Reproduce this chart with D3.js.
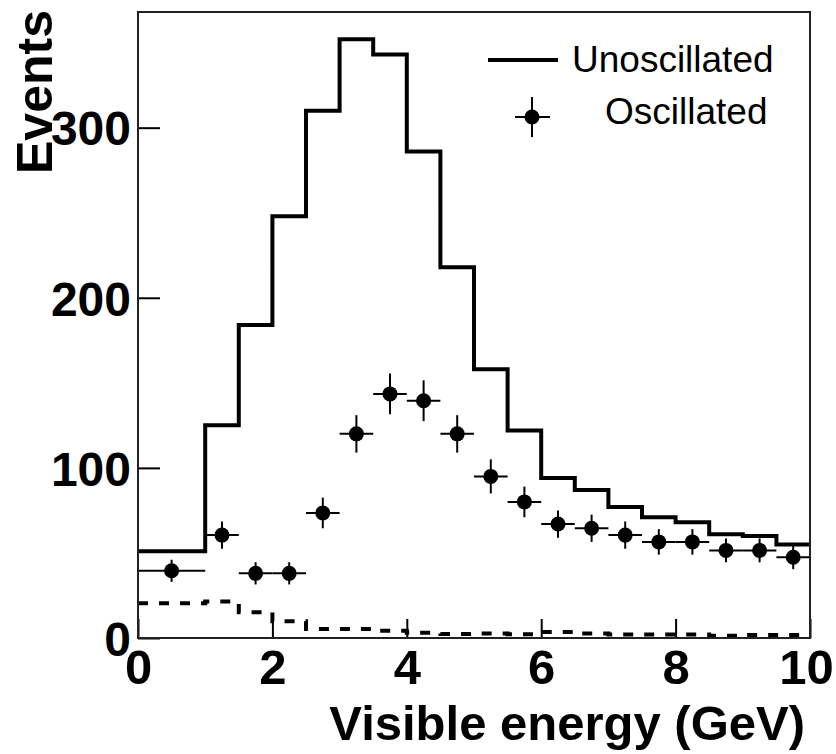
<!DOCTYPE html>
<html>
<head>
<meta charset="utf-8">
<script src="https://cdn.jsdelivr.net/npm/d3@7"></script>
<style>
  html, body { margin: 0; padding: 0; background: #fff; }
  svg { display: block; }
  text { font-family: "Liberation Sans", Arial, Helvetica, sans-serif; fill: #000; }
</style>
</head>
<body>
<svg id="chart" width="836" height="754"></svg>
<script>
// ---- data ----
const binEdges = [0, 1, 1.5, 2, 2.5, 3, 3.5, 4, 4.5, 5, 5.5, 6, 6.5, 7, 7.5, 8, 8.5, 9, 9.5, 10];
const unoscillated = [51, 125, 184, 248, 310, 352, 343, 286, 218, 158, 122, 94, 87, 77, 71, 68, 61, 60, 55];
const background = [20.4, 21.4, 15.1, 9.8, 5.3, 5.3, 4.3, 3.1, 2.4, 2.6, 2.2, 3.5, 2.6, 2.0, 2.0, 2.0, 1.3, 1.8, 1.8];
const oscEnergy = [0.5, 1.25, 1.75, 2.25, 2.75, 3.25, 3.75, 4.25, 4.75, 5.25, 5.75, 6.25, 6.75, 7.25, 7.75, 8.25, 8.75, 9.25, 9.75];
const oscEnergyErr = [0.5, 0.25, 0.25, 0.25, 0.25, 0.25, 0.25, 0.25, 0.25, 0.25, 0.25, 0.25, 0.25, 0.25, 0.25, 0.25, 0.25, 0.25, 0.25];
const oscillated = [39.5, 60.5, 38, 38, 73.5, 120, 143.5, 139.5, 120, 95, 80, 67, 64.5, 60.5, 56.5, 56.5, 51.5, 51.5, 47.5];
const oscErr = [6.5, 8, 6.5, 6.5, 9, 11, 12, 12, 11, 10, 9, 8, 8, 8, 7.5, 7.5, 7, 7, 7];
const xTicks = [0, 2, 4, 6, 8, 10];
const yTicks = [0, 100, 200, 300];
const xLabel = "Visible energy (GeV)";
const yLabel = "Events";
const legendLabels = ["Unoscillated", "Oscillated"];

// ---- layout ----
const svg = d3.select("#chart");
const L = 138, R = 810, T = 12, B = 638;
const x = d3.scaleLinear().domain([0, 10]).range([L, R]);
const y = d3.scaleLinear().domain([0, 368]).range([B, T]);

function stepPoints(values) {
  const pts = values.map((v, i) => [binEdges[i], v]);
  pts.push([binEdges[binEdges.length - 1], values[values.length - 1]]);
  return pts;
}
const stepLine = d3.line().x(d => x(d[0])).y(d => y(d[1])).curve(d3.curveStepAfter);

// background dashed histogram
svg.append("path")
  .attr("d", stepLine(stepPoints(background)))
  .attr("fill", "none").attr("stroke", "#000")
  .attr("stroke-width", 4).attr("stroke-dasharray", "10,11");

// unoscillated histogram
svg.append("path")
  .attr("d", stepLine(stepPoints(unoscillated)))
  .attr("fill", "none").attr("stroke", "#000")
  .attr("stroke-width", 4).attr("stroke-linejoin", "miter");

// oscillated points with error bars
const pts = svg.append("g");
oscEnergy.forEach((e, i) => {
  const g = pts.append("g");
  g.append("line")
    .attr("x1", x(e - oscEnergyErr[i])).attr("x2", x(e + oscEnergyErr[i]))
    .attr("y1", y(oscillated[i])).attr("y2", y(oscillated[i]))
    .attr("stroke", "#000").attr("stroke-width", 2);
  g.append("line")
    .attr("x1", x(e)).attr("x2", x(e))
    .attr("y1", y(oscillated[i] - oscErr[i])).attr("y2", y(oscillated[i] + oscErr[i]))
    .attr("stroke", "#000").attr("stroke-width", 2);
  g.append("circle")
    .attr("cx", x(e)).attr("cy", y(oscillated[i])).attr("r", 7.5)
    .attr("fill", "#000");
});

// axes
const xAxis = svg.append("g").attr("transform", `translate(0,${B})`)
  .call(d3.axisBottom(x).tickValues(xTicks).tickSize(-19).tickFormat(d3.format("d")));
xAxis.select(".domain").remove();
xAxis.selectAll("line").attr("stroke", "#000").attr("stroke-width", 2);
xAxis.selectAll("text").attr("dy", null).attr("y", 46)
  .attr("dx", d => d === 10 ? -4 : 0)
  .style("font-family", '"Liberation Sans", Arial, sans-serif')
  .style("font-size", "49px").style("font-weight", "bold").attr("fill", "#000");

const yAxis = svg.append("g").attr("transform", `translate(${L},0)`)
  .call(d3.axisLeft(y).tickValues(yTicks).tickSize(-22).tickFormat(d3.format("d")));
yAxis.select(".domain").remove();
yAxis.selectAll("line").attr("stroke", "#000").attr("stroke-width", 2);
yAxis.selectAll("text").attr("x", -7).attr("dy", "0.36em")
  .style("font-family", '"Liberation Sans", Arial, sans-serif')
  .style("font-size", "48px").style("font-weight", "bold").attr("fill", "#000");

// frame
svg.append("rect")
  .attr("x", L).attr("y", T).attr("width", R - L).attr("height", B - T)
  .attr("fill", "none").attr("stroke", "#222").attr("stroke-width", 2);

// axis titles
svg.append("text")
  .attr("x", 805).attr("y", 740).attr("text-anchor", "end")
  .style("font-size", "49px").style("font-weight", "bold")
  .text(xLabel);
svg.append("text")
  .attr("transform", "translate(52,92) rotate(-90)")
  .attr("text-anchor", "middle")
  .style("font-size", "50px").style("font-weight", "bold")
  .text(yLabel);

// legend
const lg = svg.append("g");
lg.append("line").attr("x1", 488).attr("x2", 558).attr("y1", 60).attr("y2", 60)
  .attr("stroke", "#000").attr("stroke-width", 4);
lg.append("text").attr("x", 572).attr("y", 72)
  .style("font-size", "37px").text(legendLabels[0]);
lg.append("line").attr("x1", 515).attr("x2", 550).attr("y1", 117).attr("y2", 117)
  .attr("stroke", "#000").attr("stroke-width", 2);
lg.append("line").attr("x1", 532).attr("x2", 532).attr("y1", 97).attr("y2", 137)
  .attr("stroke", "#000").attr("stroke-width", 2);
lg.append("circle").attr("cx", 532).attr("cy", 117).attr("r", 7.5).attr("fill", "#000");
lg.append("text").attr("x", 605).attr("y", 124)
  .style("font-size", "37px").text(legendLabels[1]);
</script>
</body>
</html>
